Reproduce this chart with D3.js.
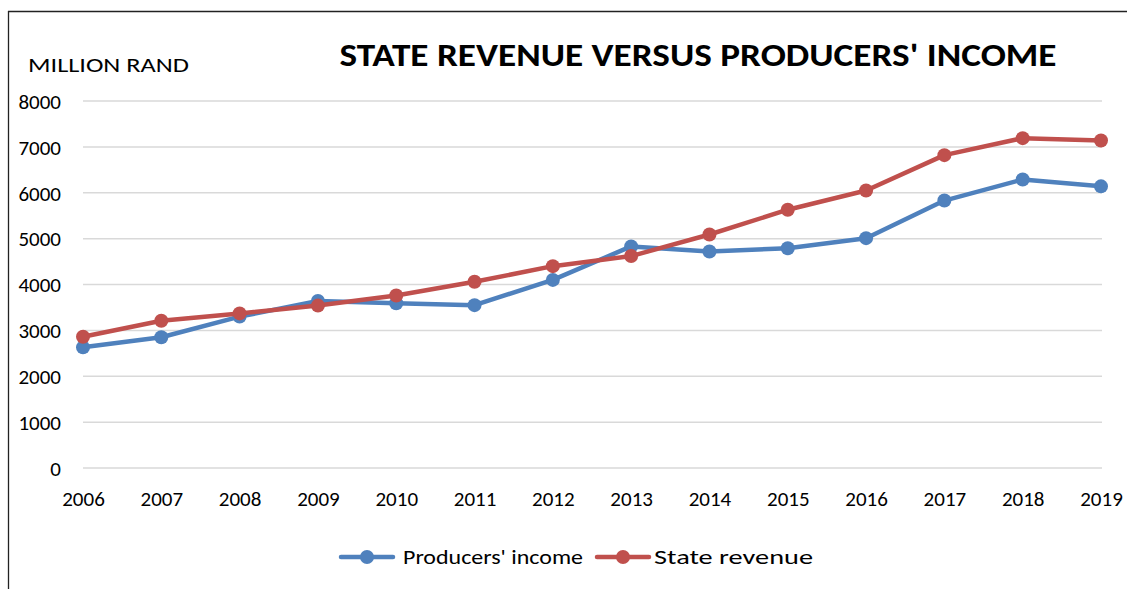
<!DOCTYPE html>
<html><head><meta charset="utf-8">
<script src="https://cdn.jsdelivr.net/npm/d3@7"></script>
<style>body{margin:0;background:#fff}svg{display:block}</style>
</head><body>
<svg id="c" width="1127" height="589"></svg>
<script>
const years = ["2006","2007","2008","2009","2010","2011","2012","2013","2014","2015","2016","2017","2018","2019"];
const producersIncome = [2630, 2850, 3300, 3640, 3590, 3550, 4100, 4830, 4720, 4790, 5010, 5830, 6290, 6140];
const stateRevenue = [2860, 3210, 3370, 3540, 3760, 4060, 4400, 4620, 5090, 5630, 6050, 6820, 7190, 7140];
const yTicks = [0, 1000, 2000, 3000, 4000, 5000, 6000, 7000, 8000];
const seriesNames = ["Producers' income", "State revenue"];
const colors = ["#4F81BD", "#C0504D"];

const svg = d3.select("#c");
const font = "Carlito, Calibri, 'Open Sans', sans-serif";

// frame
svg.append("line").attr("x1",8).attr("x2",1127).attr("y1",11.5).attr("y2",11.5).attr("stroke","#222").attr("stroke-width",1.3);
svg.append("line").attr("x1",8.5).attr("x2",8.5).attr("y1",11).attr("y2",589).attr("stroke","#222").attr("stroke-width",1.3);

const x = d3.scalePoint().domain(years).range([83, 1101]);
const y = d3.scaleLinear().domain([0, 8000]).range([468, 101]);

// gridlines
svg.append("g").selectAll("line").data(yTicks).join("line")
  .attr("x1", 83).attr("x2", 1102)
  .attr("y1", d => y(d)).attr("y2", d => y(d))
  .attr("stroke", "#d9d9d9").attr("stroke-width", 1.5);

// y axis labels
const yAxis = d3.axisLeft(y).tickValues(yTicks).tickFormat(d3.format("d")).tickSize(0).tickPadding(0);
const gy = svg.append("g").attr("transform","translate(61,0)").call(yAxis);
gy.select(".domain").remove();
gy.selectAll("text").attr("font-family", font).attr("font-size", 21).attr("fill","#000").attr("dy","0.35em");

// x axis labels
const xAxis = d3.axisBottom(x).tickSize(0).tickPadding(0);
const gx = svg.append("g").attr("transform","translate(0,491)").call(xAxis);
gx.select(".domain").remove();
gx.selectAll("text").attr("font-family", font).attr("font-size", 21).attr("fill","#000").attr("dy","0.71em");

// lines
const seriesData = [producersIncome, stateRevenue];
const line = d3.line().x((d,i) => x(years[i])).y(d => y(d));
seriesData.forEach((s, k) => {
  svg.append("path").datum(s).attr("d", line).attr("fill","none")
    .attr("stroke", colors[k]).attr("stroke-width", 4.5).attr("stroke-linejoin","round");
  svg.append("g").selectAll("circle").data(s).join("circle")
    .attr("cx", (d,i) => x(years[i])).attr("cy", d => y(d)).attr("r", 7)
    .attr("fill", colors[k]);
});

// title & unit
svg.append("text").attr("x", 698).attr("y", 66).attr("text-anchor","middle")
  .attr("font-family", font).attr("font-weight","bold").attr("font-size", 32)
  .attr("textLength", 717).attr("lengthAdjust","spacingAndGlyphs")
  .text("STATE REVENUE VERSUS PRODUCERS' INCOME");
svg.append("text").attr("x", 28).attr("y", 72)
  .attr("font-family", font).attr("font-size", 21)
  .attr("textLength", 161).attr("lengthAdjust","spacingAndGlyphs")
  .text("MILLION RAND");

// legend
const legendItems = [{x0: 341, tx: 403, tl: 180}, {x0: 597, tx: 654, tl: 159}];
legendItems.forEach((li, k) => {
  const g = svg.append("g");
  g.append("line").attr("x1", li.x0).attr("x2", li.x0 + 52).attr("y1", 557).attr("y2", 557)
    .attr("stroke", colors[k]).attr("stroke-width", 4.5).attr("stroke-linecap","round");
  g.append("circle").attr("cx", li.x0 + 26).attr("cy", 557).attr("r", 7).attr("fill", colors[k]);
  g.append("text").attr("x", li.tx).attr("y", 564).attr("font-family", font).attr("font-size", 21)
    .attr("textLength", li.tl).attr("lengthAdjust","spacingAndGlyphs")
    .text(seriesNames[k]);
});
</script>
</body></html>
